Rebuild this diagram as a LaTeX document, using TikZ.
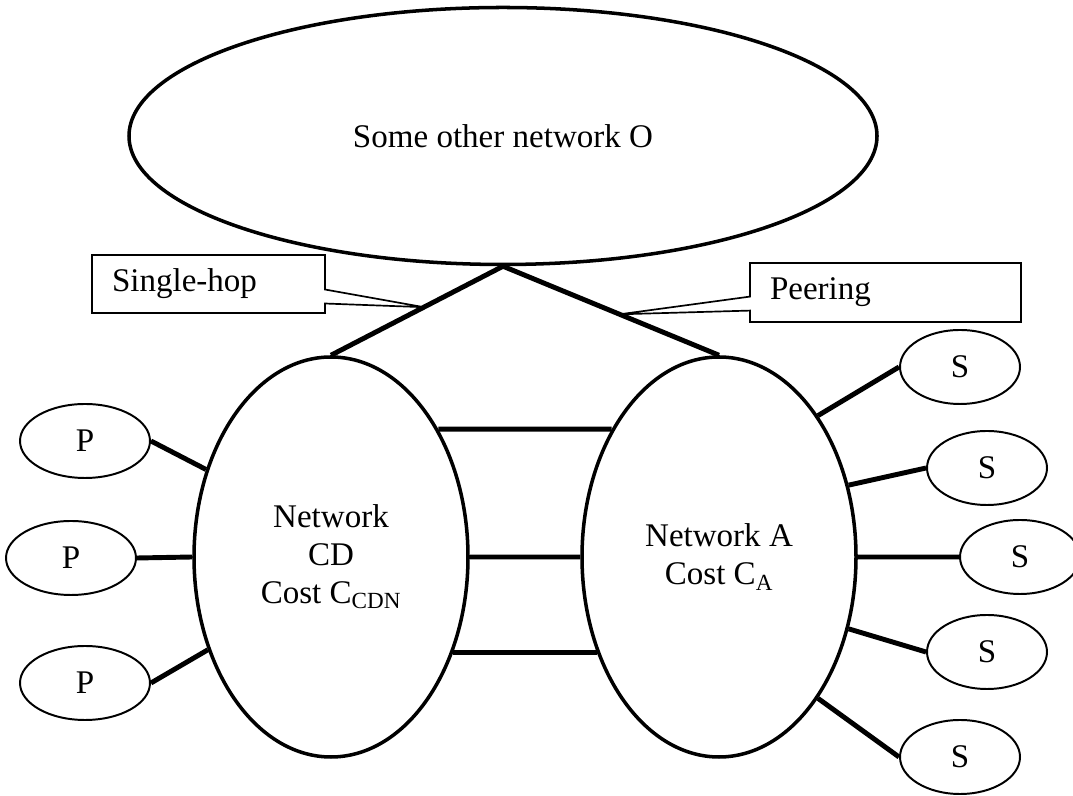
\documentclass[tikz,border=0pt]{standalone}
\usepackage{fontspec}
\setmainfont{Liberation Serif}
\usetikzlibrary{shapes.geometric,shapes.callouts,calc}
\tikzstyle{net}=[draw,ellipse,line width=2.5pt,fill=white,inner sep=0,font=\fontsize{23.5}{27}\selectfont,align=center]
\tikzstyle{peer}=[draw,ellipse,line width=1.4pt,fill=white,inner sep=0,minimum width=3.25cm,minimum height=1.85cm,font=\fontsize{23.5}{27}\selectfont]
\tikzstyle{srv}=[peer,minimum width=3cm]
\tikzstyle{link}=[line width=3.5pt]
\tikzstyle{note}=[draw,rectangle callout,line width=1.2pt,fill=white,callout pointer width=0.35cm,inner xsep=0.5cm,inner ysep=0,align=left,font=\fontsize{23.5}{27}\selectfont]

\begin{document}
\begin{tikzpicture}
    \useasboundingbox (0,0) rectangle (26.825,19.9);

    \node[net, minimum width=18.7cm, minimum height=6.425cm] (o) at (12.575,16.5) {Some other network O};

    \node[net, minimum width=6.85cm, minimum height=10cm] (cd) at (8.275,5.975) {Network\\CD\\Cost C\textsubscript{CDN}};
    \node[net, minimum width=6.85cm, minimum height=10cm] (a) at (17.975,5.975) {Network A\\Cost C\textsubscript{A}};

    \node[peer] (p1) at (2.125,8.875) {P};
    \node[peer] (p2) at (1.775,5.95) {P};
    \node[peer] (p3) at (2.125,2.825) {P};

    \node[srv] (s1) at (24.0,10.725) {S};
    \node[srv] (s2) at (24.675,8.2) {S};
    \node[srv] (s3) at (25.5,5.975) {S};
    \node[srv] (s4) at (24.675,3.6) {S};
    \node[srv] (s5) at (24.0,0.975) {S};

    \draw[link]

    (o.south) -- (cd.north)
    (o.south) -- (a.north)

    (cd.50) -- (a.130)
    (cd.east) -- (a.west)
    (cd.-38) -- (a.218)

    (p1.east) -- (cd.145)
    (p2.east) -- (cd.west)
    (p3.east) -- (cd.217)

    (a.55) -- (s1.west)
    (a.29) -- (s2.west)
    (a.east) -- (s3.west)
    (a.-29) -- (s4.west)
    (a.-55) -- (s5.west)
    ;

    \coordinate (hop) at ($(o.south)!0.46!(cd.north)$);
    \coordinate (peer) at ($(o.south)!0.54!(a.north)$);

    \node[note, text width=4.825cm, minimum height=1.45cm, callout absolute pointer=(hop)] (single) at (5.2125,12.8) {Single-hop};
    \node[note, text width=5.775cm, minimum height=1.475cm, callout absolute pointer=(peer)] (peering) at (22.1375,12.5875) {Peering};

\end{tikzpicture}
\end{document}
